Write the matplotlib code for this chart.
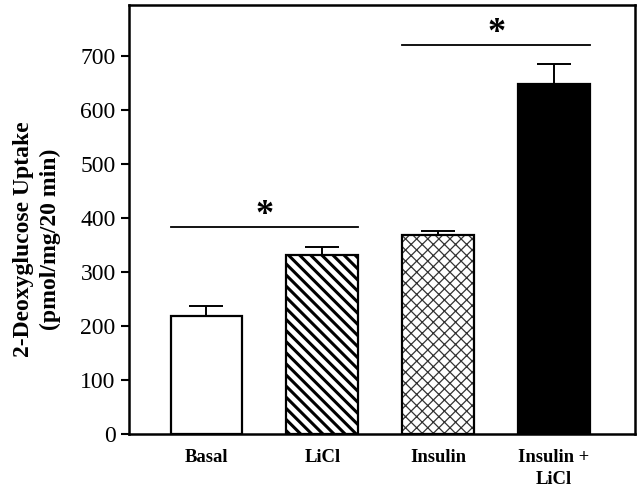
import numpy as np
import matplotlib.pyplot as plt

# Datos
grupos = ['Basal', 'LiCl', 'Insulin', 'Insulin +\nLiCl']
captacion = [219, 332, 369, 648]
error_sup = [18, 14, 8, 37]
# pares significativos (índice inicio, índice fin, altura)
sig_pares = [(0, 1, 383), (2, 3, 720)]

rellenos = ['white', 'white', 'white', 'black']
tramas = ['', '\\\\\\', 'xxx', '']
color_trama = ['black', 'black', '#333333', 'black']
grosor_trama = [1.0, 2.2, 0.9, 1.0]

plt.rcParams['font.family'] = ['Liberation Serif', 'DejaVu Serif']

fig = plt.figure(figsize=(6.41, 4.90), dpi=100)
ax = fig.add_axes([0.201, 0.114, 0.790, 0.876])

x = np.arange(len(grupos))
for i in range(len(grupos)):
    plt.rcParams['hatch.linewidth'] = grosor_trama[i]
    # trama con su propio color, contorno negro encima
    b = ax.bar(x[i], captacion[i], width=0.62, color=rellenos[i],
               edgecolor=color_trama[i], linewidth=0, hatch=tramas[i], zorder=2)
    if hasattr(b[0], 'set_hatch_linewidth'):
        b[0].set_hatch_linewidth(grosor_trama[i])
    ax.bar(x[i], captacion[i], width=0.62, color='none', edgecolor='black',
           linewidth=1.6, zorder=3)

ax.errorbar(x, captacion, yerr=[np.zeros(len(x)), error_sup], fmt='none',
            ecolor='black', elinewidth=1.4, capsize=12, capthick=1.4, zorder=1)

for a, b_, h in sig_pares:
    ax.plot([a - 0.31, b_ + 0.31], [h, h], color='black', linewidth=1.3)
    ax.text((a + b_) / 2, h - 8, '*', ha='center', va='bottom',
            fontsize=26, fontweight='bold')

ax.set_xlim(-0.67, 3.70)
ax.set_ylim(0, 795)
ax.set_yticks(range(0, 800, 100))
ax.set_xticks(x)
ax.set_xticklabels(grupos, fontsize=13.4, fontweight='bold', linespacing=1.35)
ax.tick_params(axis='x', length=0, pad=11)
ax.tick_params(axis='y', labelsize=17, length=6, width=1.5, direction='out')
for s in ax.spines.values():
    s.set_linewidth(1.8)

ax.set_ylabel('2-Deoxyglucose Uptake\n(pmol/mg/20 min)', fontsize=17,
              fontweight='bold', linespacing=1.35, labelpad=14, y=0.455)

fig.savefig('out.png', dpi=100)
